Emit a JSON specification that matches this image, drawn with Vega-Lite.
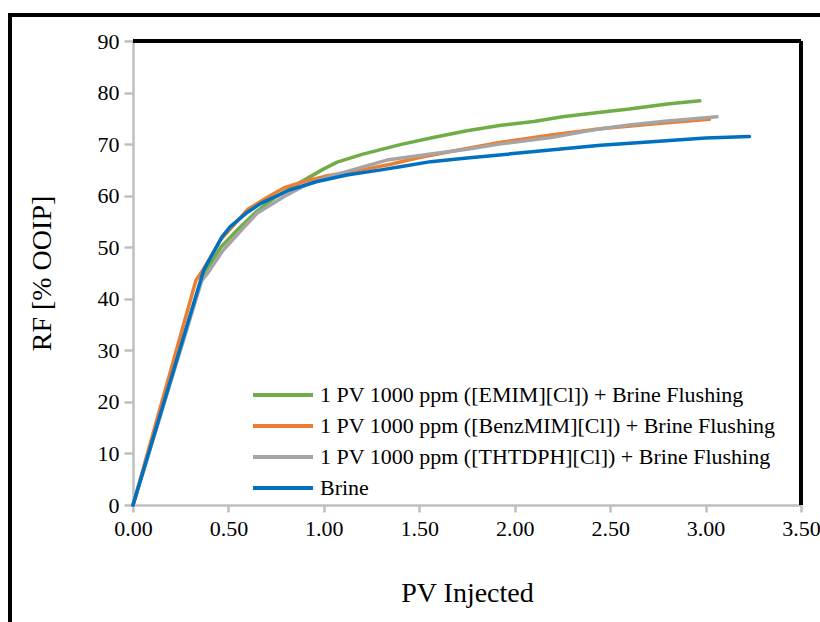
{
  "$schema": "https://vega.github.io/schema/vega-lite/v6.json",
  "autosize": {"type": "none"},
  "width": 668,
  "height": 464,
  "padding": {"left": 133, "top": 41, "right": 19, "bottom": 117},
  "background": "white",
  "config": {
    "view": {"stroke": null},
    "font": "Liberation Serif, Times New Roman, serif"
  },
  "data": {"values": [
    {"series": "1 PV 1000 ppm ([EMIM][Cl]) + Brine Flushing", "pv": 0, "rf": 0},
    {"series": "1 PV 1000 ppm ([EMIM][Cl]) + Brine Flushing", "pv": 0.36, "rf": 44.0},
    {"series": "1 PV 1000 ppm ([EMIM][Cl]) + Brine Flushing", "pv": 0.46, "rf": 50.0},
    {"series": "1 PV 1000 ppm ([EMIM][Cl]) + Brine Flushing", "pv": 0.55, "rf": 53.5},
    {"series": "1 PV 1000 ppm ([EMIM][Cl]) + Brine Flushing", "pv": 0.65, "rf": 57.0},
    {"series": "1 PV 1000 ppm ([EMIM][Cl]) + Brine Flushing", "pv": 0.75, "rf": 59.8},
    {"series": "1 PV 1000 ppm ([EMIM][Cl]) + Brine Flushing", "pv": 0.85, "rf": 62.0},
    {"series": "1 PV 1000 ppm ([EMIM][Cl]) + Brine Flushing", "pv": 0.92, "rf": 63.5},
    {"series": "1 PV 1000 ppm ([EMIM][Cl]) + Brine Flushing", "pv": 1.0, "rf": 65.2},
    {"series": "1 PV 1000 ppm ([EMIM][Cl]) + Brine Flushing", "pv": 1.07, "rf": 66.5},
    {"series": "1 PV 1000 ppm ([EMIM][Cl]) + Brine Flushing", "pv": 1.2, "rf": 68.0},
    {"series": "1 PV 1000 ppm ([EMIM][Cl]) + Brine Flushing", "pv": 1.4, "rf": 69.9},
    {"series": "1 PV 1000 ppm ([EMIM][Cl]) + Brine Flushing", "pv": 1.56, "rf": 71.2},
    {"series": "1 PV 1000 ppm ([EMIM][Cl]) + Brine Flushing", "pv": 1.75, "rf": 72.6},
    {"series": "1 PV 1000 ppm ([EMIM][Cl]) + Brine Flushing", "pv": 1.92, "rf": 73.6},
    {"series": "1 PV 1000 ppm ([EMIM][Cl]) + Brine Flushing", "pv": 2.1, "rf": 74.4},
    {"series": "1 PV 1000 ppm ([EMIM][Cl]) + Brine Flushing", "pv": 2.25, "rf": 75.3},
    {"series": "1 PV 1000 ppm ([EMIM][Cl]) + Brine Flushing", "pv": 2.45, "rf": 76.2},
    {"series": "1 PV 1000 ppm ([EMIM][Cl]) + Brine Flushing", "pv": 2.6, "rf": 76.8},
    {"series": "1 PV 1000 ppm ([EMIM][Cl]) + Brine Flushing", "pv": 2.8, "rf": 77.8},
    {"series": "1 PV 1000 ppm ([EMIM][Cl]) + Brine Flushing", "pv": 2.97, "rf": 78.4},

    {"series": "1 PV 1000 ppm ([BenzMIM][Cl]) + Brine Flushing", "pv": 0, "rf": 0},
    {"series": "1 PV 1000 ppm ([BenzMIM][Cl]) + Brine Flushing", "pv": 0.33, "rf": 43.6},
    {"series": "1 PV 1000 ppm ([BenzMIM][Cl]) + Brine Flushing", "pv": 0.37, "rf": 45.8},
    {"series": "1 PV 1000 ppm ([BenzMIM][Cl]) + Brine Flushing", "pv": 0.46, "rf": 51.5},
    {"series": "1 PV 1000 ppm ([BenzMIM][Cl]) + Brine Flushing", "pv": 0.6, "rf": 57.3},
    {"series": "1 PV 1000 ppm ([BenzMIM][Cl]) + Brine Flushing", "pv": 0.7, "rf": 59.6},
    {"series": "1 PV 1000 ppm ([BenzMIM][Cl]) + Brine Flushing", "pv": 0.79, "rf": 61.5},
    {"series": "1 PV 1000 ppm ([BenzMIM][Cl]) + Brine Flushing", "pv": 0.9, "rf": 62.8},
    {"series": "1 PV 1000 ppm ([BenzMIM][Cl]) + Brine Flushing", "pv": 1.0, "rf": 63.7},
    {"series": "1 PV 1000 ppm ([BenzMIM][Cl]) + Brine Flushing", "pv": 1.1, "rf": 64.4},
    {"series": "1 PV 1000 ppm ([BenzMIM][Cl]) + Brine Flushing", "pv": 1.2, "rf": 65.0},
    {"series": "1 PV 1000 ppm ([BenzMIM][Cl]) + Brine Flushing", "pv": 1.35, "rf": 66.1},
    {"series": "1 PV 1000 ppm ([BenzMIM][Cl]) + Brine Flushing", "pv": 1.5, "rf": 67.4},
    {"series": "1 PV 1000 ppm ([BenzMIM][Cl]) + Brine Flushing", "pv": 1.7, "rf": 68.8},
    {"series": "1 PV 1000 ppm ([BenzMIM][Cl]) + Brine Flushing", "pv": 1.92, "rf": 70.3},
    {"series": "1 PV 1000 ppm ([BenzMIM][Cl]) + Brine Flushing", "pv": 2.2, "rf": 71.8},
    {"series": "1 PV 1000 ppm ([BenzMIM][Cl]) + Brine Flushing", "pv": 2.45, "rf": 73.0},
    {"series": "1 PV 1000 ppm ([BenzMIM][Cl]) + Brine Flushing", "pv": 2.75, "rf": 74.0},
    {"series": "1 PV 1000 ppm ([BenzMIM][Cl]) + Brine Flushing", "pv": 3.02, "rf": 74.8},

    {"series": "1 PV 1000 ppm ([THTDPH][Cl]) + Brine Flushing", "pv": 0, "rf": 0},
    {"series": "1 PV 1000 ppm ([THTDPH][Cl]) + Brine Flushing", "pv": 0.36, "rf": 43.5},
    {"series": "1 PV 1000 ppm ([THTDPH][Cl]) + Brine Flushing", "pv": 0.39, "rf": 44.9},
    {"series": "1 PV 1000 ppm ([THTDPH][Cl]) + Brine Flushing", "pv": 0.47, "rf": 49.3},
    {"series": "1 PV 1000 ppm ([THTDPH][Cl]) + Brine Flushing", "pv": 0.56, "rf": 53.0},
    {"series": "1 PV 1000 ppm ([THTDPH][Cl]) + Brine Flushing", "pv": 0.65, "rf": 56.6},
    {"series": "1 PV 1000 ppm ([THTDPH][Cl]) + Brine Flushing", "pv": 0.79, "rf": 59.8},
    {"series": "1 PV 1000 ppm ([THTDPH][Cl]) + Brine Flushing", "pv": 0.9, "rf": 62.0},
    {"series": "1 PV 1000 ppm ([THTDPH][Cl]) + Brine Flushing", "pv": 1.03, "rf": 63.7},
    {"series": "1 PV 1000 ppm ([THTDPH][Cl]) + Brine Flushing", "pv": 1.15, "rf": 65.0},
    {"series": "1 PV 1000 ppm ([THTDPH][Cl]) + Brine Flushing", "pv": 1.33, "rf": 66.9},
    {"series": "1 PV 1000 ppm ([THTDPH][Cl]) + Brine Flushing", "pv": 1.56, "rf": 68.1},
    {"series": "1 PV 1000 ppm ([THTDPH][Cl]) + Brine Flushing", "pv": 1.75, "rf": 69.0},
    {"series": "1 PV 1000 ppm ([THTDPH][Cl]) + Brine Flushing", "pv": 1.92, "rf": 70.0},
    {"series": "1 PV 1000 ppm ([THTDPH][Cl]) + Brine Flushing", "pv": 2.19, "rf": 71.3},
    {"series": "1 PV 1000 ppm ([THTDPH][Cl]) + Brine Flushing", "pv": 2.45, "rf": 73.0},
    {"series": "1 PV 1000 ppm ([THTDPH][Cl]) + Brine Flushing", "pv": 2.6, "rf": 73.7},
    {"series": "1 PV 1000 ppm ([THTDPH][Cl]) + Brine Flushing", "pv": 2.8, "rf": 74.5},
    {"series": "1 PV 1000 ppm ([THTDPH][Cl]) + Brine Flushing", "pv": 3.06, "rf": 75.3},

    {"series": "Brine", "pv": 0, "rf": 0},
    {"series": "Brine", "pv": 0.37, "rf": 45.5},
    {"series": "Brine", "pv": 0.466, "rf": 52.0},
    {"series": "Brine", "pv": 0.51, "rf": 54.0},
    {"series": "Brine", "pv": 0.6, "rf": 56.8},
    {"series": "Brine", "pv": 0.67, "rf": 58.5},
    {"series": "Brine", "pv": 0.82, "rf": 61.1},
    {"series": "Brine", "pv": 0.96, "rf": 62.7},
    {"series": "Brine", "pv": 1.12, "rf": 64.0},
    {"series": "Brine", "pv": 1.3, "rf": 65.0},
    {"series": "Brine", "pv": 1.4, "rf": 65.6},
    {"series": "Brine", "pv": 1.56, "rf": 66.6},
    {"series": "Brine", "pv": 1.75, "rf": 67.3},
    {"series": "Brine", "pv": 1.92, "rf": 67.9},
    {"series": "Brine", "pv": 2.2, "rf": 68.9},
    {"series": "Brine", "pv": 2.45, "rf": 69.8},
    {"series": "Brine", "pv": 2.7, "rf": 70.4},
    {"series": "Brine", "pv": 3.0, "rf": 71.2},
    {"series": "Brine", "pv": 3.23, "rf": 71.5}
  ]},
  "layer": [
    {
      "mark": {"type": "rect", "fill": null, "stroke": "black", "strokeWidth": 2.5, "clip": false},
      "encoding": {
        "x": {"datum": -0.644, "type": "quantitative", "scale": {"domain": [0, 3.5], "nice": false}},
        "x2": {"datum": 4.5},
        "y": {"datum": 95.03, "type": "quantitative", "scale": {"domain": [0, 90], "nice": false}},
        "y2": {"datum": -40}
      }
    },
    {
      "mark": {"type": "line", "strokeWidth": 3.5, "strokeCap": "round", "strokeJoin": "round"},
      "encoding": {
        "x": {
          "field": "pv", "type": "quantitative",
          "scale": {"domain": [0, 3.5], "nice": false, "zero": true},
          "axis": {
            "title": "PV Injected",
            "values": [0, 0.5, 1, 1.5, 2, 2.5, 3, 3.5],
            "format": ".2f",
            "grid": false,
            "domainColor": "#BFBFBF", "domainWidth": 2.5,
            "tickColor": "#BFBFBF", "tickWidth": 2.5, "tickSize": 7,
            "labelFont": "Liberation Serif, Times New Roman, serif", "labelFontSize": 22, "labelColor": "black",
            "labelPadding": 6, "labelFlush": false, "labelOverlap": false,
            "titleFont": "Liberation Serif, Times New Roman, serif", "titleFontSize": 28, "titleFontWeight": "normal", "titleColor": "black",
            "titlePadding": 40
          }
        },
        "y": {
          "field": "rf", "type": "quantitative",
          "scale": {"domain": [0, 90], "nice": false},
          "axis": {
            "title": "RF [% OOIP]",
            "values": [0, 10, 20, 30, 40, 50, 60, 70, 80, 90],
            "grid": false,
            "domainColor": "#BFBFBF", "domainWidth": 2.5,
            "tickColor": "#BFBFBF", "tickWidth": 2.5, "tickSize": 9,
            "labelFont": "Liberation Serif, Times New Roman, serif", "labelFontSize": 22, "labelColor": "black",
            "labelPadding": 5, "labelFlush": false, "labelOverlap": false,
            "titleFont": "Liberation Serif, Times New Roman, serif", "titleFontSize": 28, "titleFontWeight": "normal", "titleColor": "black",
            "titlePadding": 41
          }
        },
        "color": {
          "field": "series", "type": "nominal",
          "scale": {
            "domain": ["1 PV 1000 ppm ([EMIM][Cl]) + Brine Flushing", "1 PV 1000 ppm ([BenzMIM][Cl]) + Brine Flushing", "1 PV 1000 ppm ([THTDPH][Cl]) + Brine Flushing", "Brine"],
            "range": ["#70AD47", "#ED7D31", "#A5A5A5", "#0070C0"]
          },
          "legend": {
            "title": null,
            "orient": "none",
            "legendX": 138,
            "legendY": 342,
            "padding": 0,
            "symbolType": "M-3,0H3",
            "symbolSize": 400,
            "symbolStrokeWidth": 4,
            "labelOffset": 25,
            "labelFont": "Liberation Serif, Times New Roman, serif",
            "labelFontSize": 22,
            "labelColor": "black",
            "labelLimit": 600,
            "rowPadding": 8
          }
        },
        "strokeWidth": {
          "condition": {"test": "datum.series === 'Brine'", "value": 4},
          "value": 3.5
        }
      }
    },
    {
      "mark": {"type": "rule", "stroke": "black", "strokeWidth": 2.5},
      "encoding": {
        "x": {"datum": 0},
        "x2": {"datum": 3.5},
        "y": {"datum": 90}
      }
    },
    {
      "mark": {"type": "rule", "stroke": "black", "strokeWidth": 2.5},
      "encoding": {
        "x": {"datum": 3.5},
        "y": {"datum": 0},
        "y2": {"datum": 90}
      }
    }
  ]
}
